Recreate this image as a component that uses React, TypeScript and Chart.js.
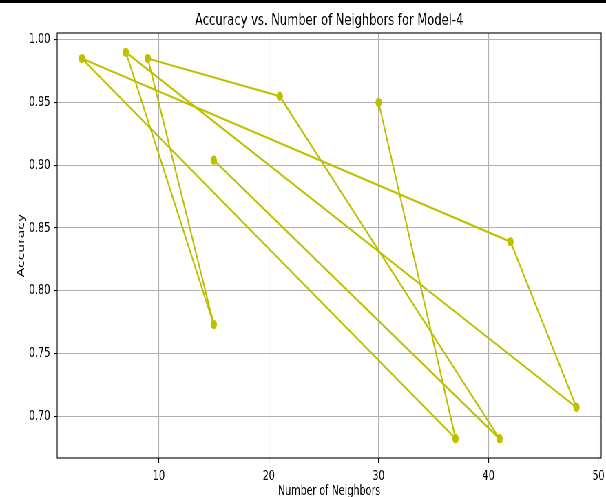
import React, { useEffect, useRef } from 'react';
import { Chart, registerables } from 'chart.js';

Chart.register(...registerables);

// Data: accuracy per k, in the order the runs were plotted
const neighbors = [30, 37, 3, 42, 48, 7, 15, 9, 21, 41, 15];
const accuracy = [0.95, 0.682, 0.985, 0.839, 0.707, 0.99, 0.773, 0.985, 0.955, 0.682, 0.904];

const xTicks = [10, 20, 30, 40, 50];
const yTicks = [0.7, 0.75, 0.8, 0.85, 0.9, 0.95, 1.0];

const chartTitle = 'Accuracy vs. Number of Neighbors for Model-4';
const xLabel = 'Number of Neighbors';
const yLabel = 'Accuracy';

// Drawing surface (figure is drawn wide, then fitted to 606px horizontally)
const W = 880;
const H = 497;
const FIT = 606 / W;

const LINE = '#bfbf00';
const FONT = "'DejaVu Sans', sans-serif";

// matplotlib-style 5% data margins
function padded(vals: number[]) {
  const lo = Math.min(...vals);
  const hi = Math.max(...vals);
  const m = (hi - lo) * 0.05;
  return [lo - m, hi + m];
}
const [xMin, xMax] = padded(neighbors);
const [yMin, yMax] = padded(accuracy);

const framePlugin = {
  id: 'frame',
  beforeDraw(chart: any) {
    const { ctx, width } = chart;
    ctx.save();
    ctx.fillStyle = '#ffffff';
    ctx.fillRect(0, 0, width, chart.height);
    ctx.fillStyle = '#000000';
    ctx.fillRect(0, 0, width, 3);
    ctx.restore();
  },
  afterDraw(chart: any) {
    const { ctx, chartArea: a } = chart;
    ctx.save();
    // spines
    ctx.strokeStyle = '#000000';
    ctx.lineWidth = 1.1;
    ctx.strokeRect(a.left, a.top, a.right - a.left, a.bottom - a.top);

    const cx = (a.left + a.right) / 2;
    ctx.fillStyle = '#000000';
    ctx.textAlign = 'center';
    ctx.textBaseline = 'alphabetic';

    ctx.font = `16.7px ${FONT}`;
    ctx.fillText(chartTitle, cx, a.top - 8.3);

    ctx.font = `13.9px ${FONT}`;
    ctx.fillText(xLabel, cx, 495);

    ctx.translate(35, (a.top + a.bottom) / 2);
    ctx.rotate(-Math.PI / 2);
    ctx.fillText(yLabel, 0, 0);
    ctx.restore();
  },
};

export default function App() {
  const ref = useRef<HTMLCanvasElement>(null);

  useEffect(() => {
    const canvas = ref.current;
    if (!canvas) return;
    const points = neighbors.map((x, i) => ({ x, y: accuracy[i] }));

    const gridOpts = {
      color: '#b0b0b0',
      lineWidth: 1.1,
      drawTicks: true,
      tickLength: 5,
      tickColor: '#000000',
      tickWidth: 1.1,
    };

    const chart = new Chart(canvas, {
      type: 'scatter',
      data: {
        datasets: [
          {
            data: points,
            showLine: true,
            borderColor: LINE,
            backgroundColor: LINE,
            borderWidth: 2.1,
            pointRadius: 4.6,
            pointHoverRadius: 4.6,
            pointBorderWidth: 0,
            pointBackgroundColor: LINE,
          },
        ],
      },
      options: {
        responsive: false,
        animation: false,
        devicePixelRatio: 1,
        events: [],
        layout: { padding: { left: 0, top: 33, right: 7, bottom: 0 } },
        plugins: {
          legend: { display: false },
          tooltip: { enabled: false },
          title: { display: false },
        },
        scales: {
          x: {
            type: 'linear',
            min: xMin,
            max: xMax,
            grid: gridOpts,
            border: { display: false },
            ticks: {
              padding: 5,
              color: '#000000',
              font: { family: FONT, size: 13.9 },
              callback: (v: any) => String(v),
            },
            afterBuildTicks: (s: any) => {
              s.ticks = xTicks.map((v) => ({ value: v }));
            },
            afterFit: (s: any) => {
              s.height = 39;
              s.paddingLeft = 0;
              s.paddingRight = 0;
            },
          },
          y: {
            type: 'linear',
            min: yMin,
            max: yMax,
            grid: gridOpts,
            border: { display: false },
            ticks: {
              padding: 5,
              color: '#000000',
              font: { family: FONT, size: 13.9 },
              callback: (v: any) => Number(v).toFixed(2),
            },
            afterBuildTicks: (s: any) => {
              s.ticks = yTicks.map((v) => ({ value: v }));
            },
            afterFit: (s: any) => {
              s.width = 83;
              s.paddingTop = 0;
              s.paddingBottom = 0;
            },
          },
        },
      },
      plugins: [framePlugin],
    });

    return () => chart.destroy();
  }, []);

  return (
    <div
      style={{
        position: 'fixed',
        left: 0,
        top: 0,
        width: W,
        height: H,
        transform: `scaleX(${FIT})`,
        transformOrigin: '0 0',
        background: '#ffffff',
      }}
    >
      <canvas ref={ref} width={W} height={H} style={{ display: 'block' }} />
    </div>
  );
}
